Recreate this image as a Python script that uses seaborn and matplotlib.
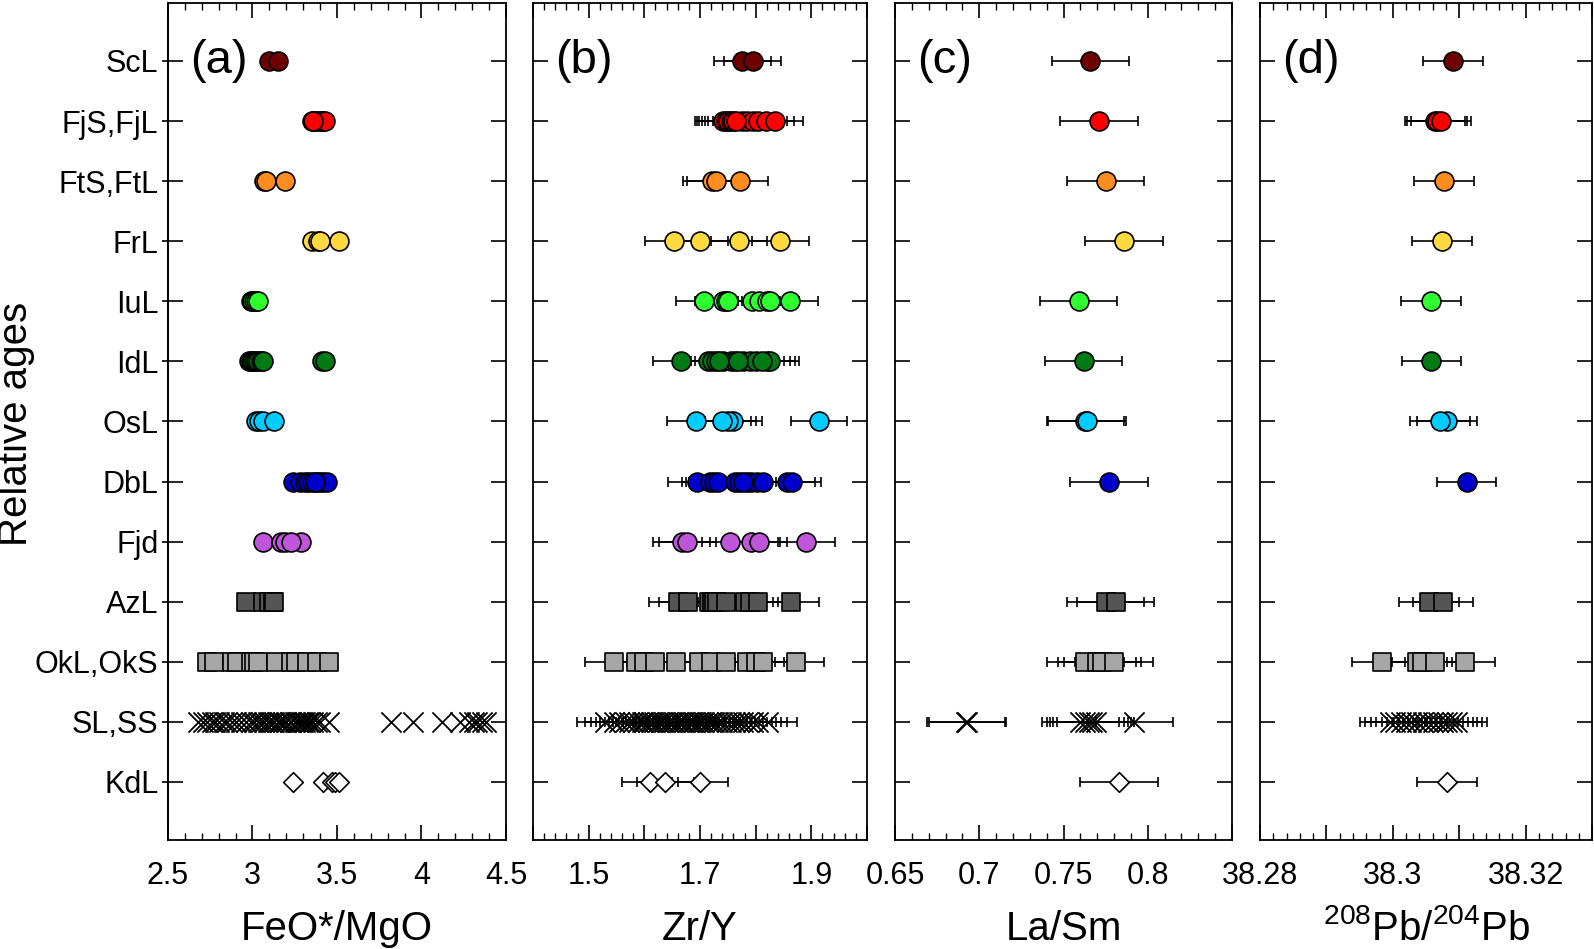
import numpy as np
import pandas as pd
import seaborn as sns
import matplotlib.pyplot as plt
from matplotlib.ticker import MultipleLocator

# Categories (top to bottom)
categories = ["ScL", "FjS,FjL", "FtS,FtL", "FrL", "IuL", "IdL", "OsL",
              "DbL", "Fjd", "AzL", "OkL,OkS", "SL,SS", "KdL"]

# (a) FeO*/MgO, no error bars
feo_mgo = [
    [3.10, 3.15],
    [3.35, 3.37, 3.38, 3.40, 3.41, 3.42, 3.43, 3.36],
    [3.07, 3.08, 3.19],
    [3.35, 3.39, 3.40, 3.51],
    [2.99, 3.00, 3.01, 3.02, 3.03],
    [2.98, 2.99, 3.00, 3.01, 3.02, 3.03, 3.05, 3.06, 3.41, 3.43],
    [3.02, 3.04, 3.06, 3.13],
    [3.24, 3.28, 3.31, 3.33, 3.35, 3.38, 3.40, 3.42, 3.44, 3.37],
    [3.06, 3.17, 3.19, 3.29, 3.23],
    [2.96, 3.06, 3.10, 3.12, 3.13],
    [2.73, 2.77, 2.88, 2.91, 2.99, 3.01, 3.03, 3.14, 3.23, 3.26, 3.32, 3.38, 3.45],
    [2.68, 2.71, 2.73, 2.76, 2.78, 2.80, 2.83, 2.85, 2.88, 2.90, 2.93, 2.96,
     2.99, 3.01, 3.03, 3.05, 3.07, 3.09, 3.11, 3.13, 3.15, 3.16, 3.18, 3.20,
     3.22, 3.23, 3.25, 3.27, 3.28, 3.30, 3.31, 3.33, 3.34, 3.36, 3.38, 3.40,
     3.45, 3.82, 3.95, 4.12, 4.23, 4.28, 4.31, 4.33, 4.36, 4.38],
    [3.24, 3.42, 3.47, 3.49, 3.51],
]

# (b) Zr/Y
zr_y = [
    [1.776, 1.795],
    [1.742, 1.746, 1.750, 1.755, 1.760, 1.775, 1.785, 1.795, 1.805, 1.818, 1.834, 1.765],
    [1.721, 1.728, 1.772],
    [1.653, 1.700, 1.770, 1.844],
    [1.707, 1.742, 1.746, 1.750, 1.793, 1.806, 1.820, 1.826, 1.861],
    [1.666, 1.715, 1.722, 1.728, 1.742, 1.755, 1.762, 1.778, 1.790, 1.800,
     1.820, 1.826, 1.734, 1.769, 1.811],
    [1.692, 1.760, 1.750, 1.740, 1.914],
    [1.694, 1.718, 1.725, 1.732, 1.762, 1.770, 1.785, 1.792, 1.802, 1.813,
     1.856, 1.866, 1.777],
    [1.667, 1.677, 1.754, 1.792, 1.806, 1.891],
    [1.660, 1.678, 1.717, 1.722, 1.726, 1.731, 1.747, 1.780, 1.790, 1.804, 1.863],
    [1.545, 1.585, 1.600, 1.620, 1.656, 1.698, 1.720, 1.747, 1.784, 1.800, 1.814, 1.872],
    [1.530, 1.545, 1.555, 1.565, 1.572, 1.580, 1.588, 1.595, 1.600, 1.606,
     1.612, 1.618, 1.624, 1.630, 1.636, 1.642, 1.648, 1.654, 1.660, 1.666,
     1.672, 1.678, 1.684, 1.690, 1.696, 1.702, 1.708, 1.714, 1.720, 1.726,
     1.733, 1.740, 1.748, 1.755, 1.762, 1.770, 1.778, 1.786, 1.795, 1.805, 1.823],
    [1.610, 1.638, 1.700],
]
zr_y_err = 0.051

# (c) La/Sm
la_sm = [
    [0.766],
    [0.771],
    [0.775],
    [0.786],
    [0.759],
    [0.762],
    [0.763, 0.764],
    [0.777],
    [],
    [0.775, 0.781],
    [0.763, 0.770, 0.773, 0.780],
    [0.692, 0.693, 0.760, 0.763, 0.765, 0.767, 0.769, 0.792],
    [0.783],
]
la_sm_err = 0.023

# (d) 208Pb/204Pb
pb = [
    [38.3091],
    [38.3063, 38.3067, 38.3072],
    [38.3077],
    [38.3074],
    [38.3057],
    [38.3058],
    [38.3081, 38.3071],
    [38.3111],
    [],
    [38.3054, 38.3075],
    [38.2984, 38.3037, 38.3044, 38.3064, 38.3109],
    [38.2995, 38.3003, 38.3012, 38.3020, 38.3028, 38.3036, 38.3045, 38.3053,
     38.3060, 38.3068, 38.3075, 38.3082, 38.3089, 38.3096],
    [38.3082],
]
pb_err = 0.0045

# Styles
colors = ["#6e0000", "#ff0000", "#ff8c1f", "#ffd940", "#2eff2e", "#007a14",
          "#00ccff", "#0000cc", "#bf55d9", "#555555", "#a6a6a6", "black", "white"]
markers = ["o"] * 9 + ["s", "s", "x", "D"]
msize = {"o": 185, "s": 185, "x": 210, "D": 100}

sns.set_style("ticks")
plt.rcParams["font.family"] = ["Liberation Sans", "DejaVu Sans"]
plt.rcParams["mathtext.fontset"] = "custom"
plt.rcParams["mathtext.rm"] = "Liberation Sans"
plt.rcParams["mathtext.it"] = "Liberation Sans:italic"
plt.rcParams["mathtext.default"] = "regular"
plt.rcParams["axes.linewidth"] = 1.3
for key in ["text.color", "axes.labelcolor", "axes.edgecolor", "xtick.color", "ytick.color"]:
    plt.rcParams[key] = "black"

fig = plt.figure(figsize=(15.94, 9.49), dpi=100)
lefts = [0.1054, 0.3344, 0.5615, 0.7905]
widths = [0.2120, 0.2095, 0.2114, 0.2083]
axes = [fig.add_axes([l, 0.1149, w, 0.8820]) for l, w in zip(lefts, widths)]

panels = [
    (feo_mgo, None, (2.5, 4.5), [2.5, 3, 3.5, 4, 4.5], ["2.5", "3", "3.5", "4", "4.5"], 0.1, "FeO*/MgO", "(a)"),
    (zr_y, zr_y_err, (1.4, 2.0), [1.4, 1.5, 1.6, 1.7, 1.8, 1.9, 2.0], ["", "1.5", "", "1.7", "", "1.9", ""], 0.02, "Zr/Y", "(b)"),
    (la_sm, la_sm_err, (0.65, 0.85), [0.65, 0.7, 0.75, 0.8, 0.85], ["0.65", "0.7", "0.75", "0.8", ""], 0.01, "La/Sm", "(c)"),
    (pb, pb_err, (38.28, 38.33), [38.28, 38.29, 38.30, 38.31, 38.32, 38.33], ["38.28", "", "38.3", "", "38.32", ""], 0.002,
     r"$^{208}$Pb/$^{204}$Pb", "(d)"),
]

for k, (ax, (values, err, xlim, ticks, labels, minor, xlabel, letter)) in enumerate(zip(axes, panels)):
    for i, cat in enumerate(categories):
        vals = values[i]
        if len(vals) == 0:
            continue
        y = [i] * len(vals)
        if err is not None:
            ax.errorbar(vals, y, xerr=err, fmt="none", ecolor="black",
                        elinewidth=1.2, capsize=3.5, capthick=1.2, zorder=2)
        if markers[i] == "x":
            sns.scatterplot(x=vals, y=y, ax=ax, marker="x", color="black",
                            s=msize["x"], linewidth=1.3, zorder=3, legend=False)
        else:
            sns.scatterplot(x=vals, y=y, ax=ax, marker=markers[i], color=colors[i],
                            s=msize[markers[i]], edgecolor="black", linewidth=1.2,
                            zorder=3, legend=False)

    ax.set_xlim(*xlim)
    ax.set_xticks(ticks)
    ax.set_xticklabels(labels)
    ax.xaxis.set_minor_locator(MultipleLocator(minor))
    ax.set_yticks(range(len(categories)))
    ax.set_ylim(len(categories) - 1 + 0.965, -0.965)
    ax.tick_params(axis="both", which="both", direction="in", top=True, right=True)
    ax.tick_params(which="major", length=11, width=1.2)
    ax.tick_params(which="minor", length=5, width=1.0)
    ax.tick_params(axis="x", labelsize=22, pad=15)
    ax.tick_params(axis="y", which="minor", left=False, right=False)

    if k == 0:
        ax.set_yticklabels(categories, fontsize=22)
        ax.tick_params(axis="y", pad=7)
        sec = ax.secondary_yaxis("left")
        sec.set_yticks(range(len(categories)))
        sec.set_yticklabels([])
        sec.tick_params(axis="y", direction="out", length=4, width=1.2)
    else:
        ax.set_yticklabels([])

    ax.set_xlabel(xlabel, fontsize=29, va="baseline")
    ax.xaxis.set_label_coords(0.5, -0.1195)
    ax.set_ylabel("")
    ax.text(0.066, 0, letter, transform=ax.get_yaxis_transform(), fontsize=34,
            ha="left", va="center")

fig.text(16 / 1594, 1 - 424 / 949, "Relative ages", rotation=90, fontsize=29,
         ha="center", va="center")

plt.savefig("out.png", dpi=100)
